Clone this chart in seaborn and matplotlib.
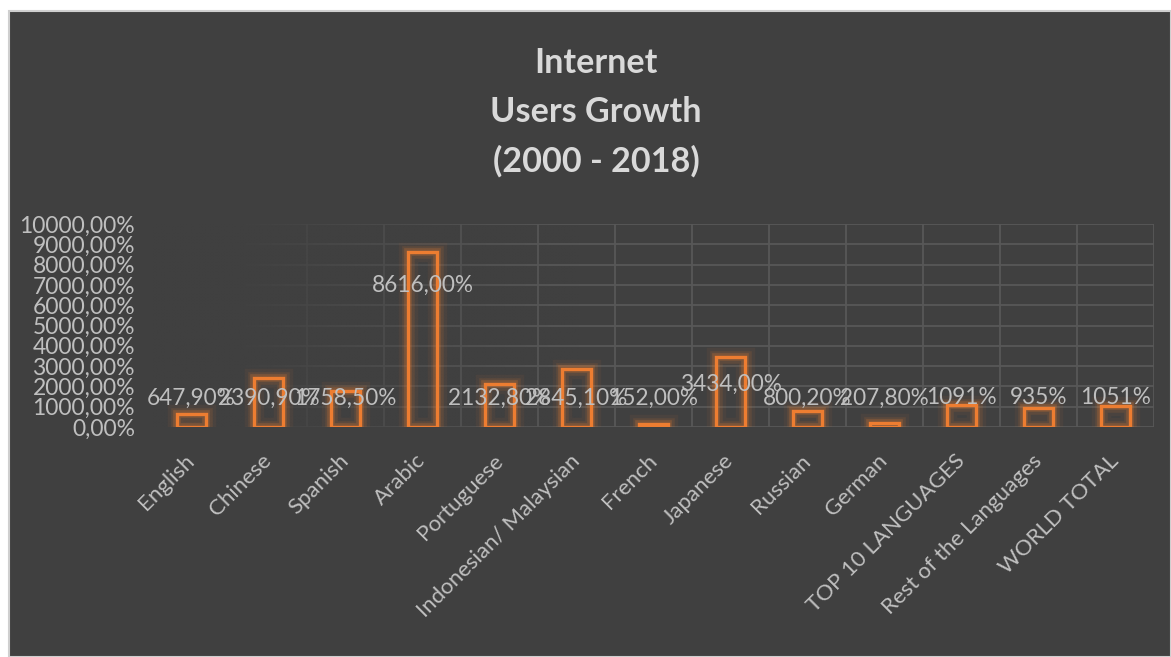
import matplotlib
matplotlib.use("Agg")
import matplotlib.pyplot as plt
import matplotlib.patheffects as pe
from matplotlib.patches import Rectangle
import numpy as np
import seaborn as sns

languages = ["English", "Chinese", "Spanish", "Arabic", "Portuguese",
             "Indonesian/ Malaysian", "French", "Japanese", "Russian", "German",
             "TOP 10 LANGUAGES", "Rest of the Languages", "WORLD TOTAL"]
growth = [647.90, 2390.90, 1758.50, 8616.00, 2132.80, 2845.10, 152.00,
          3434.00, 800.20, 207.80, 1091, 935, 1051]
decimals = [2, 2, 2, 2, 2, 2, 2, 2, 2, 2, 0, 0, 0]
y_ticks = list(range(0, 10001, 1000))

BG = "#404040"
ORANGE = "#ED7D31"
GRID = "#585858"
TEXT = "#bfbfbf"
TITLE = "#d9d9d9"

sns.set_theme(style="dark")
plt.rcParams["font.family"] = ["Lato", "DejaVu Sans"]

fig = plt.figure(figsize=(11.71, 6.57), dpi=100, facecolor="white")
fig.patches.append(Rectangle((9 / 1171, 0), 1 - 9 / 1171, (657 - 11) / 657,
                             transform=fig.transFigure, facecolor=BG,
                             edgecolor="#cfcfcf", linewidth=1.5, zorder=-10))

ax = fig.add_axes([153 / 1171, 1 - 427 / 657, (1154 - 153) / 1171, (427 - 224) / 657])
ax.set_facecolor("none")

sns.barplot(x=languages, y=growth, ax=ax, fill=False, color=ORANGE,
            width=0.38, linewidth=2.4, zorder=3)

glow = [pe.Stroke(linewidth=14, foreground=ORANGE, alpha=0.06),
        pe.Stroke(linewidth=9, foreground=ORANGE, alpha=0.12),
        pe.Stroke(linewidth=5.5, foreground=ORANGE, alpha=0.22),
        pe.Normal()]
for bar in ax.patches:
    bar.set_path_effects(glow)

n = len(languages)
ax.set_yticks(y_ticks)
ax.set_yticklabels([f"{t},00%" for t in y_ticks])

# horizontal gridlines at the value ticks, vertical ones between categories
for t in y_ticks:
    ax.axhline(t, color=GRID, linewidth=1.3, zorder=1)
for b in np.arange(-0.5, n, 1.0):
    ax.axvline(b, color=GRID, linewidth=1.3, zorder=1)

# the gridlines fade out towards the left side of the plot area
grad = np.zeros((1, 256, 4))
grad[..., :3] = matplotlib.colors.to_rgb(BG)
xs = np.linspace(0, 1, 256)
grad[0, :, 3] = np.clip(1 - (xs - 0.08) / 0.35, 0, 1) ** 1.3
ax.imshow(grad, extent=(-0.5, n - 0.5, -60, 10060), aspect="auto",
          zorder=2, interpolation="bilinear")
ax.set_xlim(-0.5, n - 0.5)
ax.set_ylim(0, 10000)

for s in ax.spines.values():
    s.set_visible(False)
ax.grid(False)
ax.tick_params(axis="both", length=0, colors=TEXT)
ax.tick_params(axis="y", labelsize=16.5, pad=13)
ax.set_xticks(range(n))
ax.set_xticklabels(languages, rotation=45, ha="right", va="center",
                   rotation_mode="anchor", fontsize=16, color=TEXT)
ax.tick_params(axis="x", pad=22)

label_y = [1430, 1430, 1430, 7000, 1430, 1430, 1430, 2100, 1430, 1430, 1430, 1430, 1430]
for i, (v, d) in enumerate(zip(growth, decimals)):
    txt = f"{v:.{d}f}".replace(".", ",") + "%"
    ax.text(i, label_y[i], txt, ha="center", va="center", fontsize=16.3,
            color=TEXT, zorder=4)

fig.text(596 / 1171, 1 - 112 / 657, "Internet\nUsers Growth\n(2000 - 2018)",
         ha="center", va="center", fontsize=24.6, fontweight="bold", color=TITLE,
         linespacing=1.65, transform=fig.transFigure)

fig.savefig("out.png", dpi=100, facecolor="white")
